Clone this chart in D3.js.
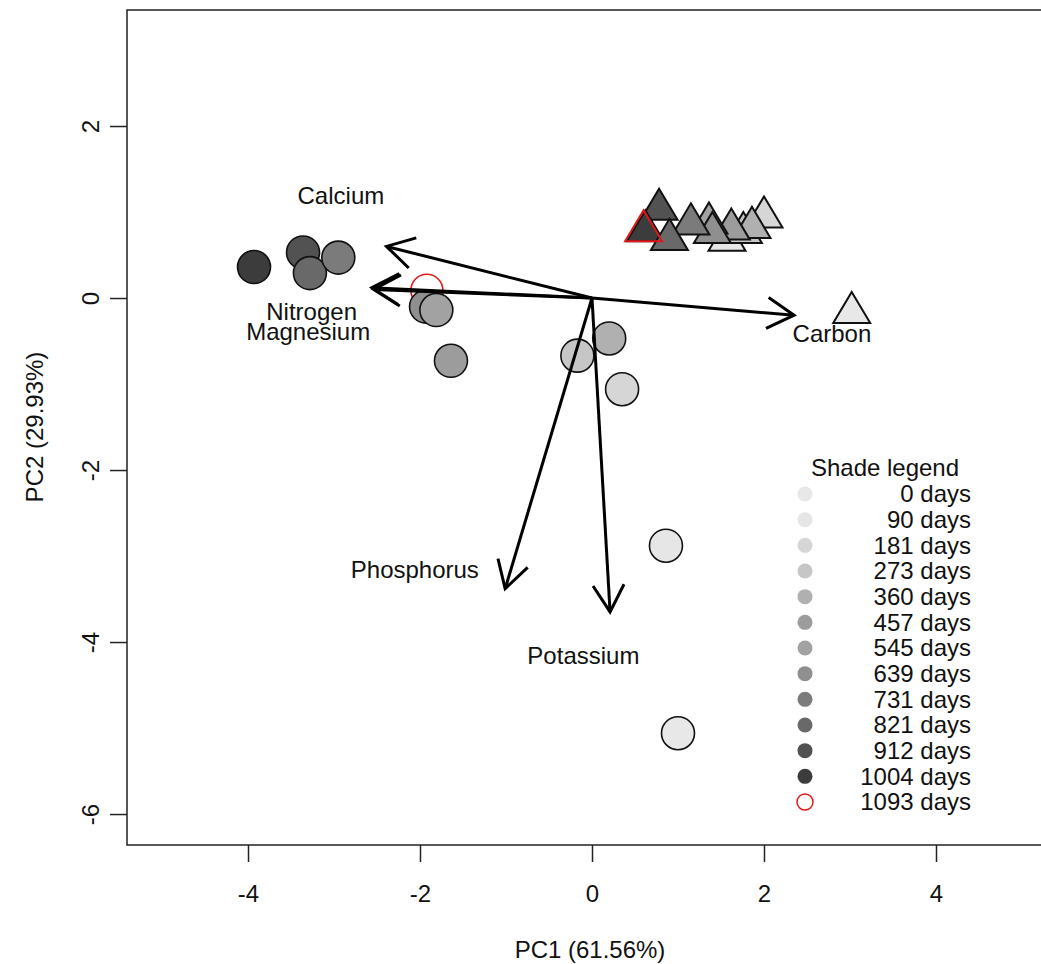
<!DOCTYPE html>
<html>
<head>
<meta charset="utf-8">
<script src="https://cdn.jsdelivr.net/npm/d3@7"></script>
<style>
  body { margin: 0; background: #fff; }
  svg text { font-family: "Liberation Sans", Arial, sans-serif; fill: #111; }
</style>
</head>
<body>
<svg id="chart" width="1041" height="964"></svg>
<script>
// shade legend
let days = ["0", "90", "181", "273", "360", "457", "545", "639", "731", "821", "912", "1004", "1093"];
let shades = ["#e8e8e8", "#e6e6e6", "#d6d6d6", "#c6c6c6", "#b0b0b0", "#9c9c9c", "#a2a2a2",
              "#8f8f8f", "#7b7b7b", "#696969", "#525252", "#3c3c3c", "none"];

// circle scores (drawing order = list order)
let circle_data = [
    { day: "1093", x: -1.92, y: 0.09 },
    { day: "1004", x: -3.93, y: 0.36 },
    { day: "912", x: -3.36, y: 0.53 },
    { day: "821", x: -3.28, y: 0.29 },
    { day: "731", x: -2.95, y: 0.47 },
    { day: "639", x: -1.93, y: -0.10 },
    { day: "545", x: -1.81, y: -0.14 },
    { day: "457", x: -1.64, y: -0.73 },
    { day: "360", x: 0.20, y: -0.47 },
    { day: "273", x: -0.17, y: -0.67 },
    { day: "181", x: 0.35, y: -1.06 },
    { day: "90", x: 0.86, y: -2.88 },
    { day: "0", x: 1.00, y: -5.06 }
];

// triangle scores
let triangle_data = [
    { day: "0", x: 3.02, y: -0.17 },
    { day: "90", x: 1.57, y: 0.67 },
    { day: "181", x: 2.00, y: 0.94 },
    { day: "273", x: 1.76, y: 0.76 },
    { day: "360", x: 1.86, y: 0.82 },
    { day: "457", x: 1.62, y: 0.80 },
    { day: "545", x: 1.36, y: 0.87 },
    { day: "639", x: 1.40, y: 0.76 },
    { day: "731", x: 1.15, y: 0.86 },
    { day: "912", x: 0.78, y: 1.03 },
    { day: "1004", x: 0.62, y: 0.78 },
    { day: "821", x: 0.90, y: 0.68 },
    { day: "1093", x: 0.60, y: 0.78 }
];

// loadings (arrow tips) and where their labels sit
let arrow_data = [
    { name: "Calcium", x: -2.39, y: 0.60, lx: -2.92, ly: 1.19 },
    { name: "Nitrogen", x: -2.56, y: 0.12, lx: -3.26, ly: -0.16 },
    { name: "Magnesium", x: -2.54, y: 0.10, lx: -3.30, ly: -0.39 },
    { name: "Carbon", x: 2.35, y: -0.20, lx: 2.79, ly: -0.41 },
    { name: "Phosphorus", x: -1.01, y: -3.38, lx: -2.06, ly: -3.16 },
    { name: "Potassium", x: 0.21, y: -3.65, lx: -0.10, ly: -4.16 }
];

let x_ticks = [-4, -2, 0, 2, 4];
let y_ticks = [-6, -4, -2, 0, 2];

let shade = d3.scaleOrdinal().domain(days).range(shades);

let svg = d3.select('#chart');
let plot_left = 127, plot_right = 1041, plot_top = 10, plot_bottom = 845;
let fs = 24;

let x = d3.scaleLinear().domain([-5.407, 5.221]).range([plot_left, plot_right]);
let y = d3.scaleLinear().domain([3.349, -6.360]).range([plot_top, plot_bottom]);

// box (right side is cut off in the original)
svg.append('rect')
    .attr('x', plot_left).attr('y', plot_top)
    .attr('width', plot_right - plot_left + 20).attr('height', plot_bottom - plot_top)
    .attr('fill', 'none').attr('stroke', '#222').attr('stroke-width', 1.5);

// axes
let xAxis = svg.append('g')
    .attr('transform', 'translate(0,' + plot_bottom + ')')
    .call(d3.axisBottom(x).tickValues(x_ticks).tickFormat(function (d) { return String(d); }).tickSize(17).tickPadding(23));
xAxis.select('.domain').remove();
xAxis.selectAll('line').attr('stroke', '#222').attr('stroke-width', 1.5);
xAxis.selectAll('text').attr('font-size', fs).attr('fill', '#111')
    .style('font-family', '"Liberation Sans", Arial, sans-serif');

let yAxis = svg.append('g')
    .attr('transform', 'translate(' + plot_left + ',0)')
    .call(d3.axisLeft(y).tickValues(y_ticks).tickFormat(function (d) { return String(d); }).tickSize(17).tickPadding(0));
yAxis.select('.domain').remove();
yAxis.selectAll('line').attr('stroke', '#222').attr('stroke-width', 1.5);
yAxis.selectAll('text')
    .attr('font-size', fs).attr('fill', '#111')
    .style('font-family', '"Liberation Sans", Arial, sans-serif')
    .attr('text-anchor', 'middle')
    .attr('x', 0).attr('dy', 0)
    .attr('transform', 'translate(-28,0) rotate(-90)');

svg.append('text')
    .attr('x', 590).attr('y', 958)
    .attr('text-anchor', 'middle').attr('font-size', fs)
    .text('PC1 (61.56%)');

svg.append('text')
    .attr('transform', 'translate(43,427) rotate(-90)')
    .attr('text-anchor', 'middle').attr('font-size', fs)
    .text('PC2 (29.93%)');

// circles
svg.append('g').selectAll('circle')
    .data(circle_data)
    .join('circle')
    .attr('cx', function (d) { return x(d.x); })
    .attr('cy', function (d) { return y(d.y); })
    .attr('r', function (d) { return d.day === "1093" ? 16 : 16.5; })
    .attr('fill', function (d) { return shade(d.day); })
    .attr('stroke', function (d) { return d.day === "1093" ? '#e01818' : '#111'; })
    .attr('stroke-width', 1.6);

// triangles
function tri(d) {
    let cx = x(d.x), cy = y(d.y);
    return 'M' + cx + ',' + (cy - 20.7) + 'L' + (cx + 18.5) + ',' + (cy + 10.4) + 'L' + (cx - 18.5) + ',' + (cy + 10.4) + 'Z';
}
svg.append('g').selectAll('path')
    .data(triangle_data)
    .join('path')
    .attr('d', tri)
    .attr('fill', function (d) { return shade(d.day); })
    .attr('stroke', function (d) { return d.day === "1093" ? '#e01818' : '#111'; })
    .attr('stroke-width', 2)
    .attr('stroke-linejoin', 'miter');

// arrows
let ox = x(0), oy = y(0);
function head(d) {
    let tx = x(d.x), ty = y(d.y);
    let a = Math.atan2(ty - oy, tx - ox), L = 31, w = Math.PI / 6;
    return 'M' + (tx - L * Math.cos(a - w)) + ',' + (ty - L * Math.sin(a - w)) +
        'L' + tx + ',' + ty +
        'L' + (tx - L * Math.cos(a + w)) + ',' + (ty - L * Math.sin(a + w));
}
let arrows = svg.append('g');
arrows.selectAll('line')
    .data(arrow_data)
    .join('line')
    .attr('x1', ox).attr('y1', oy)
    .attr('x2', function (d) { return x(d.x); })
    .attr('y2', function (d) { return y(d.y); })
    .attr('stroke', '#000').attr('stroke-width', 3);
arrows.selectAll('path')
    .data(arrow_data)
    .join('path')
    .attr('d', head)
    .attr('fill', 'none').attr('stroke', '#000').attr('stroke-width', 3);

svg.append('g').selectAll('text')
    .data(arrow_data)
    .join('text')
    .attr('x', function (d) { return x(d.lx); })
    .attr('y', function (d) { return y(d.ly); })
    .attr('dy', '0.35em')
    .attr('text-anchor', 'middle')
    .attr('font-size', fs)
    .text(function (d) { return d.name; });

// shade legend
let lg = svg.append('g');
lg.append('text')
    .attr('x', 885).attr('y', 468).attr('dy', '0.35em')
    .attr('text-anchor', 'middle').attr('font-size', fs)
    .text('Shade legend');
let ly = d3.scalePoint().domain(days).range([494, 802]);
lg.selectAll('circle')
    .data(days)
    .join('circle')
    .attr('cx', 805)
    .attr('cy', function (d) { return ly(d); })
    .attr('r', function (d) { return d === "1093" ? 8 : 7.5; })
    .attr('fill', function (d) { return shade(d); })
    .attr('stroke', function (d) { return d === "1093" ? '#e01818' : 'none'; })
    .attr('stroke-width', 1.5);
lg.selectAll('text.lab')
    .data(days)
    .join('text')
    .attr('class', 'lab')
    .attr('x', 971)
    .attr('y', function (d) { return ly(d); })
    .attr('dy', '0.35em')
    .attr('text-anchor', 'end')
    .attr('font-size', fs)
    .text(function (d) { return d + ' days'; });
</script>
</body>
</html>
